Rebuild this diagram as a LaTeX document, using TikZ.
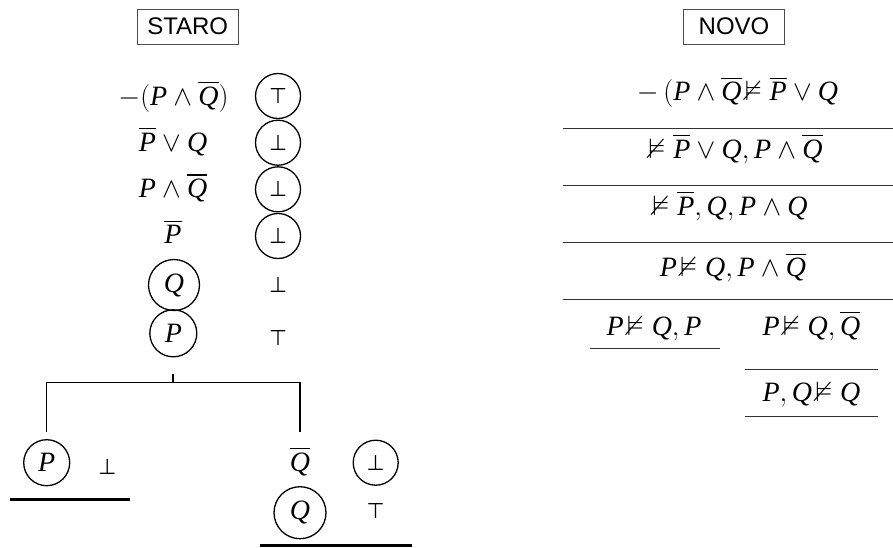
\RequirePackage{fix-cm}
\documentclass[tikz,border=0pt]{standalone}
\usepackage{amssymb}
\usepackage{graphicx}
\usepackage{fontspec}
\setmainfont{Liberation Serif}
\newfontfamily\sansf{Liberation Sans}
\newfontfamily\symf{DejaVu Sans}
\newcommand\lP{\mbox{\itshape P}}
\newcommand\lQ{\mbox{\itshape Q}}
\newcommand\oP{\overline{\lP}}
\newcommand\oQ{\overline{\lQ}}
\newcommand\tvT{\resizebox{18pt}{15pt}{\symf ⊤}}
\newcommand\tvF{\resizebox{18pt}{15pt}{\symf ⊥}}
\tikzset{
  fml/.style={font=\fontsize{28}{34}\selectfont, inner sep=0pt, anchor=base},
  tv/.style={inner sep=0pt},
  circ/.style={draw, circle, line width=1.3pt, inner sep=0pt},
  cfml/.style={circ, font=\fontsize{28}{34}\selectfont},
  ctv/.style={circ, tv, minimum size=45pt},
  lbl/.style={draw=black!70, line width=0.9pt, font=\sansf\fontsize{24}{28}\selectfont,
              minimum width=101pt, minimum height=35pt, inner sep=0pt},
  tree/.style={line width=1.3pt},
  closed/.style={line width=3.5pt},
  rule/.style={line width=1pt, draw=black!80},
}
\begin{document}
\begin{tikzpicture}[x=1pt,y=-1pt]
\useasboundingbox (0,0) rectangle (893,547);
% headers
\node[lbl] (staro) at (187.7,26.7) {STARO};
\node[lbl] (novo) at (734,26.7) {NOVO};
% left: formulas
\node[fml] (l1) at (173.5,105) {$-(\lP\wedge\oQ)$};
\node[fml] (l2) at (173,151) {$\oP\vee\lQ$};
\node[fml] (l3) at (173,197.5) {$\lP\wedge\oQ$};
\node[fml] (l4) at (173,243.5) {$\oP$};
\node[cfml, minimum size=51pt] (l5) at (174,285) {$\lQ$};
\node[cfml, minimum size=47pt] (l6) at (173.3,333.3) {$\lP$};
% left: values
\node[ctv] (v1) at (278,96) {\tvT};
\node[ctv] (v2) at (278,142.7) {\tvF};
\node[ctv] (v3) at (278,189.3) {\tvF};
\node[ctv] (v4) at (278,236) {\tvF};
\node[tv] (v5) at (278,284.5) {\tvF};
\node[tv] (v6) at (278,337.5) {\tvT};
% tree
\coordinate (stemtop) at (173,374);
\coordinate (split) at (173,382.7);
\coordinate (lb) at (46.7,432);
\coordinate (rb) at (300,432);
\draw[tree] (stemtop) -- (split);
\draw[tree] (lb) |- (split) -| (rb);
% left branch
\node[cfml, minimum size=46pt] (bl1) at (46.7,462.7) {$\lP$};
\node[tv] (bv1) at (107.3,467) {\tvF};
\coordinate (cl1) at (10,499.3);
\coordinate (cl2) at (130,499.3);
\draw[closed] (cl1) -- (cl2);
% right branch
\node[fml] (br1) at (300,471) {$\oQ$};
\node[ctv] (brv1) at (375.7,462.7) {\tvF};
\node[cfml, minimum size=52pt] (br2) at (300,512.7) {$\lQ$};
\node[tv] (brv2) at (375.7,511) {\tvT};
\coordinate (cr1) at (260,545.3);
\coordinate (cr2) at (412,545.3);
\draw[closed] (cr1) -- (cr2);
% right side: sequent derivation
\node[fml] (f1) at (737.5,100.7) {$-\,(\lP\wedge\oQ\!\nvDash\oP\vee\lQ$};
\node[fml] (f2) at (735.5,158) {$\nvDash\oP\vee\lQ, \lP\wedge\oQ$};
\node[fml] (f3) at (730,215) {$\nvDash\oP, \lQ, \lP\wedge\lQ$};
\node[fml] (f4) at (733,276.7) {$\lP\!\nvDash\lQ, \lP\wedge\oQ$};
\node[fml] (f5a) at (654,335) {$\lP\!\nvDash\lQ, \lP$};
\node[fml] (f5b) at (811.5,335) {$\lP\!\nvDash\lQ, \oQ$};
\node[fml] (f6) at (811.5,401.7) {$\lP, \lQ\!\nvDash\lQ$};
\coordinate (r1a) at (563,128.3); \coordinate (r1b) at (893,128.3);
\coordinate (r2a) at (563,185.7); \coordinate (r2b) at (893,185.7);
\coordinate (r3a) at (563,242.3); \coordinate (r3b) at (893,242.3);
\coordinate (r4a) at (563,299.3); \coordinate (r4b) at (893,299.3);
\coordinate (r5a) at (590,348.3); \coordinate (r5b) at (720,348.3);
\coordinate (r6a) at (745,369.3); \coordinate (r6b) at (878,369.3);
\coordinate (r7a) at (745,416.7); \coordinate (r7b) at (878,416.7);
\foreach \a/\b in {r1a/r1b,r2a/r2b,r3a/r3b,r4a/r4b,r5a/r5b,r6a/r6b,r7a/r7b}
  \draw[rule] (\a) -- (\b);
\end{tikzpicture}
\end{document}
